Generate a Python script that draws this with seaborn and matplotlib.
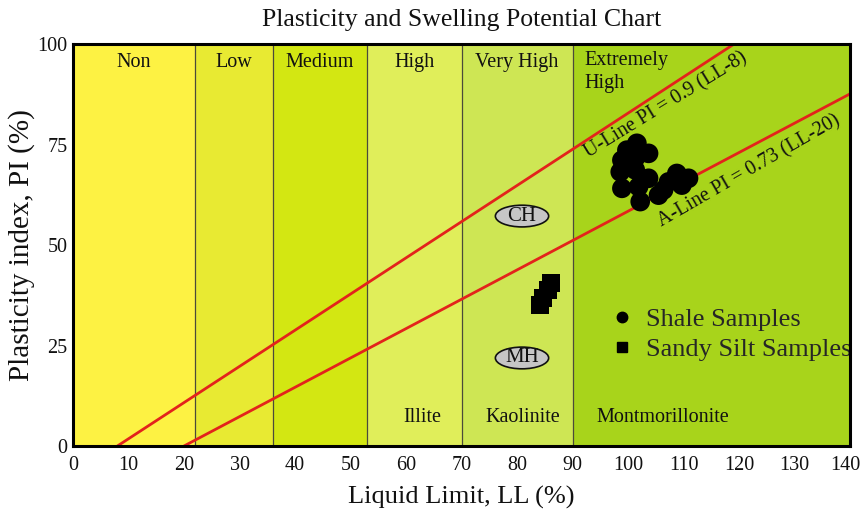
import numpy as np
import pandas as pd
import matplotlib
matplotlib.use("Agg")
import matplotlib.pyplot as plt
import matplotlib.transforms as mtransforms
from matplotlib.patches import Ellipse
from matplotlib.lines import Line2D
import seaborn as sns

# Swelling potential zones (liquid limit boundaries, %)
zone_edges = [0, 22, 36, 53, 70, 90, 140]
zone_names = ["Non", "Low", "Medium", "High", "Very High", "Extremely\nHigh"]
zone_colors = ["#FDF243", "#E8EA32", "#D3E712", "#E0EE5A", "#CEE654", "#A8D41B"]

# Clay mineral labels along the bottom
mineral_names = ["Illite", "Kaolinite", "Montmorillonite"]
mineral_ll = [63, 81, 94.4]

# Shale samples (LL %, PI %)
shale_ll = [101.6, 99.8, 103.7, 98.9, 101.3, 98.6, 101.3, 103.7, 98.9, 101.9,
            102.2, 108.8, 110.9, 107.3, 106.4, 105.5, 109.7]
shale_pi = [75.3, 73.6, 72.8, 71.1, 71.6, 68.2, 68.7, 66.6, 64.1, 64.5,
            60.8, 67.8, 66.6, 65.7, 63.7, 62.4, 64.9]

# Sandy silt samples (LL %, PI %)
silt_ll = [86.1, 85.6, 84.7, 84.1]
silt_pi = [40.5, 38.8, 36.8, 35.1]

# Reference lines PI = slope * (LL - offset)
line_names = ["U-Line PI = 0.9 (LL-8)", "A-Line PI = 0.73 (LL-20)"]
line_slopes = [0.9, 0.73]
line_offsets = [8, 20]

# Soil class labels
class_names = ["CH", "MH"]
class_ll = [80.9, 80.9]
class_pi = [57.2, 21.9]

sns.set_theme(style="white")
plt.rcParams["font.family"] = ["Liberation Serif", "DejaVu Serif"]

fig = plt.figure(figsize=(8.62, 5.13), dpi=100)
ax = fig.add_axes([0.0847, 0.1306, 0.9014, 0.7836])
ax.set_xlim(0, 140)
ax.set_ylim(0, 100)

# Zone bands and their labels
for i, name in enumerate(zone_names):
    lo, hi = zone_edges[i], zone_edges[i + 1]
    ax.axvspan(lo, hi, color=zone_colors[i], zorder=0, lw=0)
    if i > 0:
        ax.axvline(lo, color="#4a4a3a", lw=0.9, zorder=1)
    if "\n" in name:
        ax.text(lo + 2.2, 98.2, name, ha="left", va="top", fontsize=14.5,
                linespacing=1.25, color="#111111")
    else:
        ax.text((lo + hi) / 2, 95.4, name, ha="center", va="center",
                fontsize=14.5, color="#111111")

for name, x in zip(mineral_names, mineral_ll):
    ha = "left" if name == "Montmorillonite" else "center"
    ax.text(x, 7.0, name, ha=ha, va="center", fontsize=14.5, color="#111111")

# Reference lines
for name, m, c in zip(line_names, line_slopes, line_offsets):
    ll = np.array([c, 140.0])
    pi = m * (ll - c)
    sns.lineplot(x=ll, y=pi, ax=ax, color="#E3231B", lw=2.0, zorder=2,
                 sort=False, legend=False)

# Line equations, written just below each line
label_pos = [(106.8, 84.8), (121.9, 68.3)]
label_rot = [31.5, 30.0]
for name, (x, y), rot in zip(line_names, label_pos, label_rot):
    ax.text(x, y, name, rotation=rot, rotation_mode="anchor",
            ha="center", va="center", fontsize=14.5, color="#111111", zorder=3)

# Soil class ellipses
for name, x, y in zip(class_names, class_ll, class_pi):
    ax.add_patch(Ellipse((x, y), 9.6, 5.4, facecolor="#C6C6C6",
                         edgecolor="#111111", lw=1.2, zorder=3))
    ax.text(x, y, name, ha="center", va="center", fontsize=15, zorder=4,
            color="#111111")

# Samples
samples = pd.DataFrame({
    "LL": shale_ll + silt_ll,
    "PI": shale_pi + silt_pi,
    "Sample": ["Shale Samples"] * len(shale_ll) + ["Sandy Silt Samples"] * len(silt_ll),
})
sns.scatterplot(data=samples[samples["Sample"] == "Shale Samples"], x="LL", y="PI",
                marker="o", s=200, color="black", edgecolor="none", ax=ax,
                zorder=5, legend=False)
sns.scatterplot(data=samples[samples["Sample"] == "Sandy Silt Samples"], x="LL", y="PI",
                marker="s", s=160, color="black", edgecolor="none", ax=ax,
                zorder=5, legend=False)

handles = [
    Line2D([], [], marker="o", ls="none", color="black", markersize=7.5),
    Line2D([], [], marker="s", ls="none", color="black", markersize=7),
]
ax.legend(handles, ["Shale Samples", "Sandy Silt Samples"], loc="center left",
          bbox_to_anchor=(0.676, 0.277), frameon=False, fontsize=19,
          handlelength=0.8, handletextpad=0.5, borderpad=0, labelspacing=0.25)

# Axes styling
ax.set_xticks(np.arange(0, 141, 10))
ax.set_yticks([0, 25, 50, 75, 100])
ax.tick_params(axis="both", length=0, labelsize=14.5, colors="#111111")
ax.tick_params(axis="x", pad=7)
ax.tick_params(axis="y", pad=4)
last = ax.get_xticklabels()[-1]
last.set_transform(last.get_transform() +
                   mtransforms.ScaledTranslation(-5 / 100, 0, fig.dpi_scale_trans))
for sp in ax.spines.values():
    sp.set_visible(True)
    sp.set_color("black")
    sp.set_linewidth(2.2)
    sp.set_zorder(6)

ax.set_xlabel("Liquid Limit, LL (%)", fontsize=19, labelpad=8, color="#111111")
ax.set_ylabel("Plasticity index, PI (%)", fontsize=21, labelpad=2, color="#111111")
ax.set_title("Plasticity and Swelling Potential Chart", fontsize=18.5, pad=13,
             color="#111111")

fig.savefig("out.png", dpi=100)
